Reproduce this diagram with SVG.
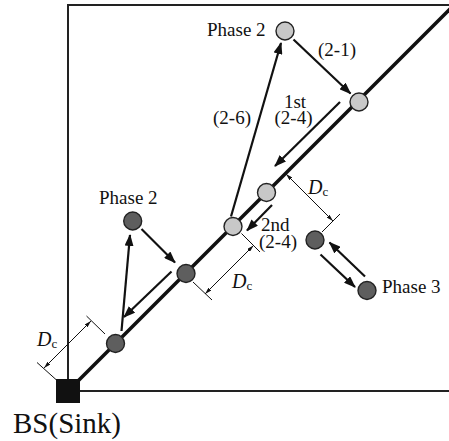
<svg xmlns="http://www.w3.org/2000/svg" width="449" height="441" viewBox="0 0 449 441">
<style>
.frame{stroke:#222;stroke-width:2;fill:none}
.diag{stroke:#111;stroke-width:3.6;fill:none}
.arr{stroke:#111;stroke-width:2.2;fill:none;marker-end:url(#ah)}
.dim{stroke:#111;stroke-width:1;fill:none;marker-start:url(#dh);marker-end:url(#dh)}
.tick{stroke:#111;stroke-width:1;fill:none}
.light{fill:#c8c8c8;stroke:#222;stroke-width:1.4}
.dark{fill:#5e5e5e;stroke:#222;stroke-width:1.4}
text{font-family:"Liberation Serif","Times New Roman",serif;fill:#111}
.lbl{font-size:19px}
.D{font-size:20px;font-style:italic}
.c{font-size:13px}
</style>
<defs>
<marker id="ah" markerWidth="12" markerHeight="9" refX="11" refY="4.5" orient="auto" markerUnits="userSpaceOnUse"><path d="M0,0 L12,4.5 L0,9 Z" fill="#111"/></marker>
<marker id="dh" markerWidth="7" markerHeight="4" refX="7" refY="2" orient="auto-start-reverse" markerUnits="userSpaceOnUse"><path d="M0,0 L7,2 L0,4 Z" fill="#111"/></marker>
</defs>
<g id="frame">
<line class="frame" x1="68" y1="5" x2="68" y2="391"/>
<line class="frame" x1="67" y1="5" x2="449" y2="5"/>
<line class="frame" x1="68" y1="391" x2="449" y2="391"/>
<line class="diag" x1="68" y1="391" x2="452" y2="7"/>
</g>
<g id="connectors">
<line class="arr" x1="293.5" y1="39.5" x2="350.5" y2="93.5"/>
<line class="arr" x1="340" y1="102" x2="275" y2="166"/>
<line class="arr" x1="231" y1="216.5" x2="281" y2="43"/>
<line class="arr" x1="272" y1="205" x2="247" y2="230.5"/>
<line class="arr" x1="141.5" y1="229" x2="175" y2="262.5"/>
<line class="arr" x1="171.5" y1="271.5" x2="124" y2="317"/>
<line class="arr" x1="121.5" y1="331" x2="130" y2="235"/>
<line class="arr" x1="320.5" y1="254.5" x2="355" y2="287"/>
<line class="arr" x1="365" y1="276.5" x2="329.5" y2="242.5"/>
</g>
<g id="dimensions">
<line class="dim" x1="286" y1="174" x2="333" y2="221"/>
<line class="tick" x1="322" y1="232" x2="340" y2="214"/>
<line class="dim" x1="253.5" y1="245.5" x2="205" y2="294"/>
<line class="tick" x1="241.5" y1="233.5" x2="260" y2="252"/>
<line class="tick" x1="193" y1="282" x2="212" y2="300"/>
<line class="dim" x1="91" y1="321" x2="44" y2="368"/>
<line class="tick" x1="86.5" y1="316" x2="105" y2="334"/>
<line class="tick" x1="37" y1="362.5" x2="56.5" y2="380"/>
</g>
<g id="sink"><rect x="56" y="379" width="24" height="24" fill="#111"/><text x="13" y="433" font-size="29">BS(Sink)</text></g>
<g id="nodeA"><circle class="dark" cx="115.5" cy="343.5" r="9"/></g>
<g id="nodeB"><circle class="dark" cx="186" cy="273.5" r="9"/></g>
<g id="nodeC"><circle class="light" cx="233" cy="226.5" r="9"/></g>
<g id="nodeD"><circle class="light" cx="266.5" cy="192.5" r="9"/></g>
<g id="nodeE"><circle class="light" cx="359" cy="102" r="9"/></g>
<g id="nodeF"><circle class="light" cx="285" cy="31" r="9"/></g>
<g id="nodeG"><circle class="dark" cx="132.7" cy="221" r="9"/></g>
<g id="nodeH"><circle class="dark" cx="315" cy="240" r="9"/></g>
<g id="nodeI"><circle class="dark" cx="367" cy="290.5" r="9"/></g>
<g id="labels">
<text class="lbl" x="207" y="36">Phase 2</text>
<text class="lbl" x="318" y="56">(2-1)</text>
<text class="lbl" x="295" y="108" text-anchor="middle">1st</text>
<text class="lbl" x="293.5" y="124" text-anchor="middle">(2-4)</text>
<text class="lbl" x="213" y="124">(2-6)</text>
<text class="lbl" x="261" y="231">2nd</text>
<text class="lbl" x="259" y="248">(2-4)</text>
<text class="lbl" x="99" y="204">Phase 2</text>
<text class="lbl" x="382" y="293">Phase 3</text>
<text x="308" y="194"><tspan class="D">D</tspan><tspan class="c" dy="2">c</tspan></text>
<text x="232" y="288"><tspan class="D">D</tspan><tspan class="c" dy="2">c</tspan></text>
<text x="37" y="346"><tspan class="D">D</tspan><tspan class="c" dy="2">c</tspan></text>
</g>
</svg>
